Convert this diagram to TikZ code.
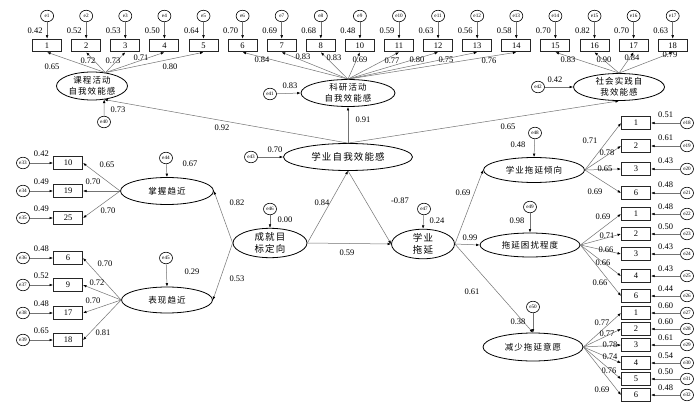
\documentclass[tikz,border=0pt]{standalone}
\usepackage{fontspec}
\setmainfont{Liberation Serif}
\newfontfamily\cjk[LetterSpace=12]{Noto Sans CJK SC}
\usetikzlibrary{arrows.meta,shapes.geometric}

\begin{document}
\begin{tikzpicture}[x=1pt, y=-1pt, font=\fontsize{8.5}{10}\selectfont,
  latent/.style={draw, ellipse, line width=0.8pt, inner sep=0pt, align=center, font=\cjk\fontsize{8.5}{11}\selectfont},
  biglatent/.style={latent, font=\cjk\fontsize{9.5}{12}\selectfont},
  obs/.style={draw=black!85, line width=1pt, minimum width=29pt, minimum height=12.5pt, inner sep=0pt},
  err/.style={draw, ellipse, line width=0.6pt, minimum width=13pt, minimum height=11.5pt, inner sep=0pt, font=\fontsize{5.2}{6}\selectfont},
  arr/.style={draw=black!55, line width=0.5pt, -{Latex[length=3.5pt,width=2.6pt,color=black]}},
  coef/.style={inner sep=0.5pt}]
\path[use as bounding box, fill=white] (0,0) rectangle (700,406);

% latent variables
\node[latent, minimum width=71pt, minimum height=28pt] (kc) at (92,86) {课程活动\\自我效能感};
\node[latent, minimum width=94pt, minimum height=27pt] (ky) at (348,93) {科研活动\\自我效能感};
\node[latent, minimum width=91pt, minimum height=27pt] (sh) at (619,87) {社会实践自\\我效能感};
\node[biglatent, minimum width=129pt, minimum height=27pt] (xzx) at (348,157) {学业自我效能感};
\node[biglatent, minimum width=74pt, minimum height=27pt] (cj) at (270,243) {成就目\\标定向};
\node[biglatent, minimum width=63pt, minimum height=28pt] (xt) at (423,244) {学业\\拖延};
\node[latent, minimum width=93pt, minimum height=27pt] (zw) at (167,191) {掌握趋近};
\node[latent, minimum width=91pt, minimum height=26pt] (bx) at (167,300) {表现趋近};
\node[latent, minimum width=101pt, minimum height=25pt] (qx) at (534,170) {学业拖延倾向};
\node[latent, minimum width=100pt, minimum height=24pt] (kr) at (530,245) {拖延困扰程度};
\node[latent, minimum width=100pt, minimum height=28pt] (yy) at (533,347) {减少拖延意愿};

% disturbances of the latent variables
\foreach \i/\x/\y in {40/104/122, 41/270/94, 42/538/87, 43/251/157, 44/166/158, 45/166/258,
                     46/270/209, 47/424/209, 48/535/133, 49/530/207, 50/533/307}
  \node[err] (e\i) at (\x,\y) {e\i};

% top row of items
\foreach \i/\t/\r in {1/1/0.42, 2/2/0.52, 3/3/0.53, 4/4/0.50, 5/5/0.64, 6/6/0.70, 7/7/0.69, 8/8/0.68, 9/10/0.48,
                     10/11/0.59, 11/12/0.63, 12/13/0.56, 13/14/0.58, 14/15/0.70, 15/16/0.82, 16/17/0.70, 17/18/0.63} {
  \node[obs] (t\i) at (8+39.1*\i,45.5) {\t};
  \node[err] (e\i) at (8+39.1*\i,16) {e\i};
  \draw[arr] (e\i) -- node[coef, midway, xshift=-12pt] {\r} (t\i);
}
\foreach \i/\w/\lx/\ly in {1/0.65/52/67, 2/0.72/88/61, 3/0.73/113/61, 4/0.71/141/58, 5/0.80/170/67}
  \draw[arr] (kc.45) -- (t\i.south) node[coef] at (\lx,\ly) {\w};
\foreach \i/\w/\lx/\ly in {6/0.84/262/60, 7/0.83/303/57, 8/0.83/334/58, 9/0.69/360/60,
                          10/0.77/392/61, 11/0.80/417/60, 12/0.75/446/60, 13/0.76/489/61}
  \draw[arr] (ky.north) -- (t\i.south) node[coef] at (\lx,\ly) {\w};
\foreach \i/\w/\lx/\ly in {14/0.83/568/60, 15/0.90/604/60, 16/0.84/632/58, 17/0.79/670/55}
  \draw[arr] (sh.north) -- (t\i.south) node[coef] at (\lx,\ly) {\w};

% left items
\foreach \i/\t/\y/\r/\w/\lx/\ly in {33/10/163/0.42/0.65/107/165, 34/19/191/0.49/0.70/93/182, 35/25/218/0.49/0.70/108/211} {
  \node[obs] (m\i) at (68,\y) {\t};
  \node[err] (e\i) at (23,\y) {e\i};
  \draw[arr] (e\i) -- node[coef, midway, yshift=9pt] {\r} (m\i);
  \draw[arr] (zw.west) -- (m\i.east) node[coef] at (\lx,\ly) {\w};
}
\foreach \i/\t/\y/\r/\w/\lx/\ly in {36/6/258/0.48/0.70/105/264, 37/9/285/0.52/0.72/97/283,
                                   38/17/313/0.48/0.70/93/301, 39/18/340/0.65/0.81/103/333} {
  \node[obs] (m\i) at (68,\y) {\t};
  \node[err] (e\i) at (23,\y) {e\i};
  \draw[arr] (e\i) -- node[coef, midway, yshift=9pt] {\r} (m\i);
  \draw[arr] (bx.west) -- (m\i.east) node[coef] at (\lx,\ly) {\w};
}

% right items
\foreach \i/\t/\y/\r/\w/\lx/\ly in {18/1/123/0.51/0.71/590/141, 19/2/146/0.61/0.78/607/153,
                                   20/3/169/0.43/0.65/605/169, 21/6/193/0.48/0.69/595/192} {
  \node[obs] (m\i) at (636,\y) {\t};
  \node[err] (e\i) at (687,\y) {e\i};
  \draw[arr] (e\i) -- node[coef, midway, yshift=8pt] {\r} (m\i);
  \draw[arr] (qx.east) -- (m\i.west) node[coef] at (\lx,\ly) {\w};
}
\foreach \i/\t/\y/\r/\w/\lx/\ly in {22/1/214/0.48/0.69/603/217, 23/2/234/0.50/0.71/607/236, 24/3/254/0.43/0.66/606/250,
                                   25/4/276/0.43/0.66/603/263, 26/6/296/0.44/0.66/600/283} {
  \node[obs] (m\i) at (636,\y) {\t};
  \node[err] (e\i) at (687,\y) {e\i};
  \draw[arr] (e\i) -- node[coef, midway, yshift=7pt] {\r} (m\i);
  \draw[arr] (kr.east) -- (m\i.west) node[coef] at (\lx,\ly) {\w};
}
\foreach \i/\t/\y/\r/\w/\lx/\ly in {27/1/313/0.60/0.77/602/323, 28/2/329/0.60/0.77/607/334, 29/3/345/0.61/0.78/610/345,
                                   30/4/363/0.54/0.74/610/357, 31/5/379/0.50/0.76/609/371, 32/6/395/0.48/0.69/602/390} {
  \node[obs] (m\i) at (636,\y) {\t};
  \node[err] (e\i) at (687,\y) {e\i};
  \draw[arr] (e\i) -- node[coef, midway, yshift=7pt] {\r} (m\i);
  \draw[arr] (yy.east) -- (m\i.west) node[coef] at (\lx,\ly) {\w};
}

% structural paths
\draw[arr] (xzx.north) -- (kc.-48) node[coef] at (222,128) {0.92};
\draw[arr] (xzx.north) -- (ky.south) node[coef] at (363,120) {0.91};
\draw[arr] (xzx.north) -- (sh.south) node[coef] at (508,127) {0.65};
\draw[arr] (cj.east) -- (xzx.south) node[coef] at (322,203) {0.84};
\draw[arr] (cj.east) -- (xt.west) node[coef] at (347,253) {0.59};
\draw[arr] (xzx.south) -- (xt.west) node[coef] at (400,201) {-0.87};
\draw[arr] (cj.west) -- (zw.east) node[coef] at (237,203) {0.82};
\draw[arr] (cj.west) -- (bx.east) node[coef] at (237,279) {0.53};
\draw[arr] (xt.east) -- (qx.west) node[coef] at (463,193) {0.69};
\draw[arr] (xt.east) -- (kr.west) node[coef] at (470,238) {0.99};
\draw[arr] (xt.east) -- (yy.north) node[coef] at (472,292) {0.61};

% disturbance paths
\draw[arr] (e40) -- (kc.-48) node[coef] at (118,110) {0.73};
\draw[arr] (e41) -- (ky.west) node[coef] at (290,86) {0.83};
\draw[arr] (e42) -- (sh.west) node[coef] at (555,80) {0.42};
\draw[arr] (e43) -- (xzx.west) node[coef] at (275,150) {0.70};
\draw[arr] (e44) -- (zw.north) node[coef] at (190,164) {0.67};
\draw[arr] (e45) -- (bx.north) node[coef] at (192,272) {0.29};
\draw[arr] (e46) -- (cj.north) node[coef] at (285,220) {0.00};
\draw[arr] (e47) -- (xt.north) node[coef] at (437,221) {0.24};
\draw[arr] (e48) -- (qx.north) node[coef] at (518,145) {0.48};
\draw[arr] (e49) -- (kr.north) node[coef] at (517,221) {0.98};
\draw[arr] (e50) -- (yy.north) node[coef] at (518,322) {0.38};
\end{tikzpicture}
\end{document}
